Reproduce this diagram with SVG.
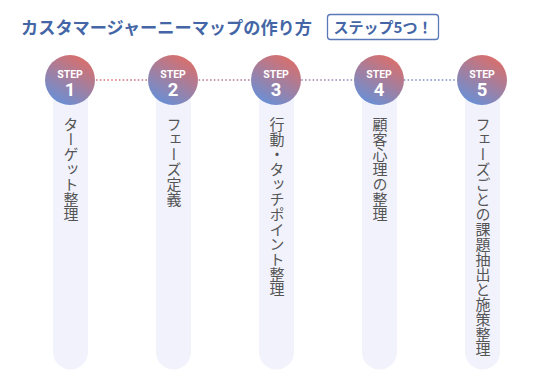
<svg xmlns="http://www.w3.org/2000/svg" width="560" height="380" viewBox="0 0 560 380">
<defs>
<linearGradient id="cg" x1="0.75" y1="0.05" x2="0.25" y2="0.95">
<stop offset="0" stop-color="#d96f6c"/>
<stop offset="1" stop-color="#6a8fd4"/>
</linearGradient>
<linearGradient id="lg" gradientUnits="userSpaceOnUse" x1="95" y1="0" x2="457" y2="0">
<stop offset="0" stop-color="#d9707a"/>
<stop offset="1" stop-color="#7a90d2"/>
</linearGradient>
<style>
.col{fill:#f1f2fc}
.circ{fill:url(#cg)}
.step{font-family:Roboto,"Liberation Sans",sans-serif;font-weight:700;fill:#fff;text-anchor:middle}
.lbl{font-family:"Noto Sans CJK JP",sans-serif;font-size:15px;fill:#555;writing-mode:vertical-rl}
.title{font-family:"Noto Sans CJK JP",sans-serif;font-weight:700;fill:#4466a6}
</style>
</defs>
<rect width="560" height="380" fill="#fff"/>
<text class="title" x="21" y="34" font-size="17.2">カスタマージャーニーマップの作り方</text>
<rect x="327.5" y="14.5" width="111" height="25" rx="3" fill="#fff" stroke="#5a78b8" stroke-width="1.3"/>
<text class="title" x="383" y="33" font-size="15" text-anchor="middle">ステップ5つ！</text>
<g id="connectors">
<line x1="96" y1="80" x2="456" y2="80" stroke="url(#lg)" stroke-width="1.6" stroke-dasharray="1.6 2.2"/>
</g>
<g id="step1">
<path class="col" d="M53 95 H88 V352 A17.5 17.5 0 0 1 53 352 Z"/>
<circle class="circ" cx="70" cy="80" r="25"/>
<text class="step" x="70" y="77.5" font-size="10.5">STEP</text>
<text class="step" x="70" y="95.5" font-size="18.5">1</text>
<text class="lbl" x="71" y="117">ターゲット整理</text>
</g>
<g id="step2">
<path class="col" d="M156 95 H191 V352 A17.5 17.5 0 0 1 156 352 Z"/>
<circle class="circ" cx="173" cy="80" r="25"/>
<text class="step" x="173" y="77.5" font-size="10.5">STEP</text>
<text class="step" x="173" y="95.5" font-size="18.5">2</text>
<text class="lbl" x="174" y="117">フェーズ定義</text>
</g>
<g id="step3">
<path class="col" d="M259 95 H294 V352 A17.5 17.5 0 0 1 259 352 Z"/>
<circle class="circ" cx="276" cy="80" r="25"/>
<text class="step" x="276" y="77.5" font-size="10.5">STEP</text>
<text class="step" x="276" y="95.5" font-size="18.5">3</text>
<text class="lbl" x="277" y="117">行動・タッチポイント整理</text>
</g>
<g id="step4">
<path class="col" d="M362 95 H397 V352 A17.5 17.5 0 0 1 362 352 Z"/>
<circle class="circ" cx="379" cy="80" r="25"/>
<text class="step" x="379" y="77.5" font-size="10.5">STEP</text>
<text class="step" x="379" y="95.5" font-size="18.5">4</text>
<text class="lbl" x="380" y="117">顧客心理の整理</text>
</g>
<g id="step5">
<path class="col" d="M465 95 H500 V352 A17.5 17.5 0 0 1 465 352 Z"/>
<circle class="circ" cx="482" cy="80" r="25"/>
<text class="step" x="482" y="77.5" font-size="10.5">STEP</text>
<text class="step" x="482" y="95.5" font-size="18.5">5</text>
<text class="lbl" x="483" y="117">フェーズごとの課題抽出と施策整理</text>
</g>
</svg>
